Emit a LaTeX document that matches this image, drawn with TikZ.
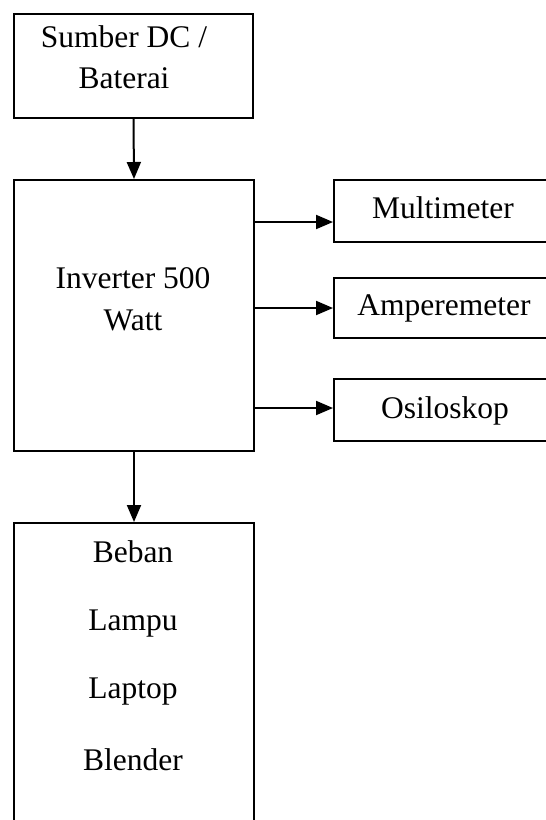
\documentclass[tikz,border=0pt]{standalone}
\usepackage{fontspec}
\setmainfont{Liberation Serif}
\usetikzlibrary{arrows.meta}
\begin{document}
\begin{tikzpicture}[x=1pt,y=-1pt,
  boxst/.style={draw,line width=2pt,rectangle,inner sep=0pt,anchor=north west},
  lbl/.style={font=\fontsize{31.5}{38}\selectfont,anchor=base,inner sep=0pt},
  arr/.style={line width=2pt,-{Triangle[length=17pt,width=14pt]}}]
\useasboundingbox (0,0) rectangle (546,820);
\begin{scope}
\clip (0,0) rectangle (546,820);
\node[boxst,minimum width=239pt,minimum height=104pt] (src) at (13,13) {};
\node[boxst,minimum width=240pt,minimum height=271pt] (inv) at (13,179) {};
\node[boxst,minimum width=240pt,minimum height=320pt] (load) at (13,522) {};
\node[boxst,minimum width=222pt,minimum height=62pt] (mm) at (333,179) {};
\node[boxst,minimum width=222pt,minimum height=60pt] (am) at (333,277) {};
\node[boxst,minimum width=222pt,minimum height=62pt] (os) at (333,378) {};
\end{scope}
\node[lbl] (t1) at (124,47) {Sumber DC /};
\node[lbl] (t2) at (124,88) {Baterai};
\node[lbl] (t3) at (133,288) {Inverter 500};
\node[lbl] (t4) at (133,330) {Watt};
\node[lbl] (t5) at (133,562) {Beban};
\node[lbl] (t6) at (133,630) {Lampu};
\node[lbl] (t7) at (133,698) {Laptop};
\node[lbl] (t8) at (133,770) {Blender};
\node[lbl] (t9) at (443,218) {Multimeter};
\node[lbl] (t10) at (444,315) {Amperemeter};
\node[lbl] (t11) at (445,418) {Osiloskop};
\coordinate (a1) at ([yshift=-11pt]mm.west);
\coordinate (a2) at (am.west);
\coordinate (a3) at ([yshift=2pt]os.west);
\draw[arr] (src.south) -- (inv.north);
\draw[arr] (inv.south) -- (load.north);
\draw[arr] (inv.east |- a1) -- (a1);
\draw[arr] (inv.east |- a2) -- (a2);
\draw[arr] (inv.east |- a3) -- (a3);
\end{tikzpicture}
\end{document}
